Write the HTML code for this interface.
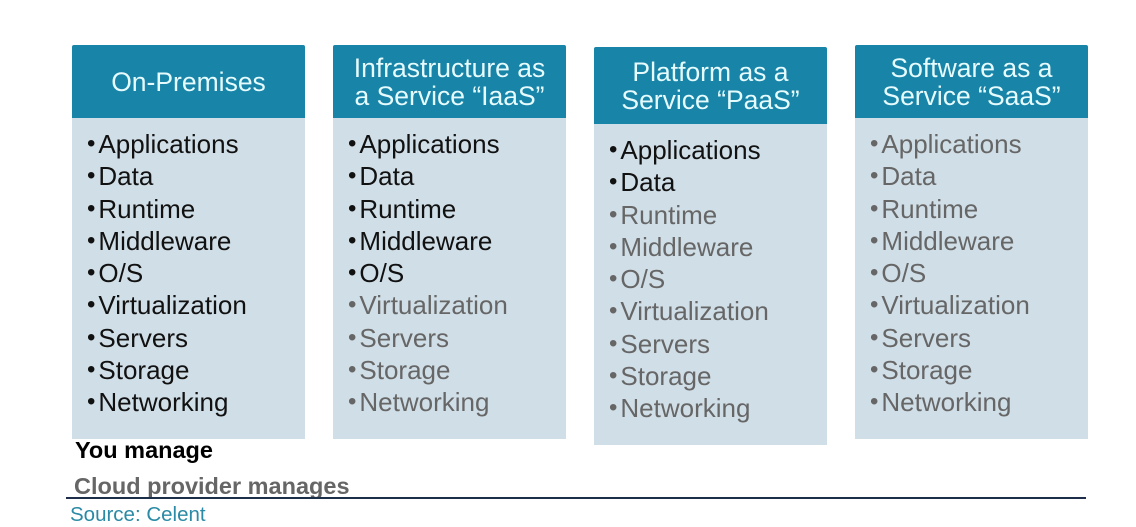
<!DOCTYPE html>
<html><head><style>
body{margin:0;width:1136px;height:526px;background:#fff;position:relative;font-family:"Liberation Sans",Arial,sans-serif;overflow:hidden}
.col{position:absolute;width:233px}
.hd{background:#1784a8;color:#e6fbfd;font-size:26.5px;text-align:center;display:flex;align-items:center;justify-content:center;line-height:28px;border-radius:2px 2px 0 0}
.bd{background:#d0dee7;padding-top:10px;box-sizing:border-box}
.bd div{font-size:26px;height:32.25px;line-height:32.25px;padding-left:15px;color:#111;white-space:nowrap}
.bd div.g{color:#666}
.bd div:before{content:"•";font-size:24px;line-height:10px;margin-right:3px;vertical-align:2px}
</style></head><body>
<div class="col" style="left:72px;top:45px"><div class="hd" style="height:73px">On-Premises</div><div class="bd" style="height:321px">
<div>Applications</div><div>Data</div><div>Runtime</div><div>Middleware</div><div>O/S</div><div>Virtualization</div><div>Servers</div><div>Storage</div><div>Networking</div></div></div>
<div class="col" style="left:333px;top:45px"><div class="hd" style="height:73px">Infrastructure as<br>a Service “IaaS”</div><div class="bd" style="height:321px">
<div>Applications</div><div>Data</div><div>Runtime</div><div>Middleware</div><div>O/S</div><div class="g">Virtualization</div><div class="g">Servers</div><div class="g">Storage</div><div class="g">Networking</div></div></div>
<div class="col" style="left:594px;top:47px"><div class="hd" style="height:77px">Platform as a<br>Service “PaaS”</div><div class="bd" style="height:321px">
<div>Applications</div><div>Data</div><div class="g">Runtime</div><div class="g">Middleware</div><div class="g">O/S</div><div class="g">Virtualization</div><div class="g">Servers</div><div class="g">Storage</div><div class="g">Networking</div></div></div>
<div class="col" style="left:855px;top:45px"><div class="hd" style="height:73px">Software as a<br>Service “SaaS”</div><div class="bd" style="height:321px">
<div class="g">Applications</div><div class="g">Data</div><div class="g">Runtime</div><div class="g">Middleware</div><div class="g">O/S</div><div class="g">Virtualization</div><div class="g">Servers</div><div class="g">Storage</div><div class="g">Networking</div></div></div>
<div style="position:absolute;left:75px;top:437px;font-size:23.5px;font-weight:bold;color:#000">You manage</div>
<div style="position:absolute;left:74px;top:473px;font-size:23.5px;font-weight:bold;color:#666">Cloud provider manages</div>
<div style="position:absolute;left:66px;top:497px;width:1020px;height:2px;background:#1c2e4a"></div>
<div style="position:absolute;left:70px;top:503px;font-size:20.5px;color:#2b8aa5">Source: Celent</div>
</body></html>
